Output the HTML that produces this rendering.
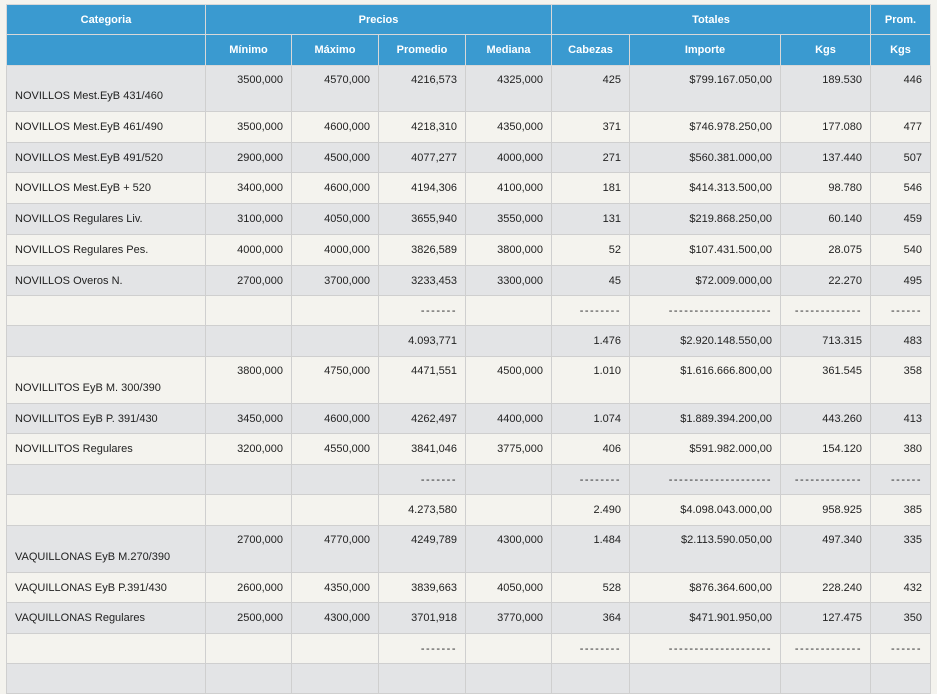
<!DOCTYPE html>
<html><head><meta charset="utf-8"><style>
body{margin:0;background:#f4f3ee;width:937px;height:669px;overflow:hidden;font-family:"Liberation Sans",sans-serif;}
table{position:absolute;left:6px;top:4px;border-collapse:collapse;table-layout:fixed;font-size:11px;color:#222;}
td,th{border:1px solid #cfcfcf;padding:0 8px;text-align:right;white-space:nowrap;overflow:hidden;}
th{background:#3a9ad0;color:#fff;font-weight:bold;text-align:center;border-color:#d8d8d8;}
tr.g td{background:#e3e4e6}
tr.l td{background:#f4f3ee}
td.c{text-align:left}
tr.t td{vertical-align:top;padding-top:8px}
tr.t td.c{vertical-align:bottom;padding-bottom:9px}
tr.d td{letter-spacing:1.5px}
</style></head><body>
<table>
<colgroup><col style="width:199px"><col style="width:86px"><col style="width:87px"><col style="width:87px"><col style="width:86px"><col style="width:78px"><col style="width:151px"><col style="width:90px"><col style="width:60px"></colgroup>
<tr style="height:30px"><th>Categoria</th><th colspan="4">Precios</th><th colspan="3">Totales</th><th>Prom.</th></tr>
<tr style="height:31px"><th></th><th>Mínimo</th><th>Máximo</th><th>Promedio</th><th>Mediana</th><th>Cabezas</th><th>Importe</th><th>Kgs</th><th>Kgs</th></tr>
<tr class="g t" style="height:46px"><td class="c">NOVILLOS Mest.EyB 431/460</td><td>3500,000</td><td>4570,000</td><td>4216,573</td><td>4325,000</td><td>425</td><td>$799.167.050,00</td><td>189.530</td><td>446</td></tr>
<tr class="l" style="height:31px"><td class="c">NOVILLOS Mest.EyB 461/490</td><td>3500,000</td><td>4600,000</td><td>4218,310</td><td>4350,000</td><td>371</td><td>$746.978.250,00</td><td>177.080</td><td>477</td></tr>
<tr class="g" style="height:30px"><td class="c">NOVILLOS Mest.EyB 491/520</td><td>2900,000</td><td>4500,000</td><td>4077,277</td><td>4000,000</td><td>271</td><td>$560.381.000,00</td><td>137.440</td><td>507</td></tr>
<tr class="l" style="height:31px"><td class="c">NOVILLOS Mest.EyB + 520</td><td>3400,000</td><td>4600,000</td><td>4194,306</td><td>4100,000</td><td>181</td><td>$414.313.500,00</td><td>98.780</td><td>546</td></tr>
<tr class="g" style="height:31px"><td class="c">NOVILLOS Regulares Liv.</td><td>3100,000</td><td>4050,000</td><td>3655,940</td><td>3550,000</td><td>131</td><td>$219.868.250,00</td><td>60.140</td><td>459</td></tr>
<tr class="l" style="height:31px"><td class="c">NOVILLOS Regulares Pes.</td><td>4000,000</td><td>4000,000</td><td>3826,589</td><td>3800,000</td><td>52</td><td>$107.431.500,00</td><td>28.075</td><td>540</td></tr>
<tr class="g" style="height:30px"><td class="c">NOVILLOS Overos N.</td><td>2700,000</td><td>3700,000</td><td>3233,453</td><td>3300,000</td><td>45</td><td>$72.009.000,00</td><td>22.270</td><td>495</td></tr>
<tr class="l d" style="height:30px"><td></td><td></td><td></td><td>-------</td><td></td><td>--------</td><td>--------------------</td><td>-------------</td><td>------</td></tr>
<tr class="g" style="height:31px"><td></td><td></td><td></td><td>4.093,771</td><td></td><td>1.476</td><td>$2.920.148.550,00</td><td>713.315</td><td>483</td></tr>
<tr class="l t" style="height:47px"><td class="c">NOVILLITOS EyB M. 300/390</td><td>3800,000</td><td>4750,000</td><td>4471,551</td><td>4500,000</td><td>1.010</td><td>$1.616.666.800,00</td><td>361.545</td><td>358</td></tr>
<tr class="g" style="height:30px"><td class="c">NOVILLITOS EyB P. 391/430</td><td>3450,000</td><td>4600,000</td><td>4262,497</td><td>4400,000</td><td>1.074</td><td>$1.889.394.200,00</td><td>443.260</td><td>413</td></tr>
<tr class="l" style="height:31px"><td class="c">NOVILLITOS Regulares</td><td>3200,000</td><td>4550,000</td><td>3841,046</td><td>3775,000</td><td>406</td><td>$591.982.000,00</td><td>154.120</td><td>380</td></tr>
<tr class="g d" style="height:30px"><td></td><td></td><td></td><td>-------</td><td></td><td>--------</td><td>--------------------</td><td>-------------</td><td>------</td></tr>
<tr class="l" style="height:31px"><td></td><td></td><td></td><td>4.273,580</td><td></td><td>2.490</td><td>$4.098.043.000,00</td><td>958.925</td><td>385</td></tr>
<tr class="g t" style="height:47px"><td class="c">VAQUILLONAS EyB M.270/390</td><td>2700,000</td><td>4770,000</td><td>4249,789</td><td>4300,000</td><td>1.484</td><td>$2.113.590.050,00</td><td>497.340</td><td>335</td></tr>
<tr class="l" style="height:30px"><td class="c">VAQUILLONAS EyB P.391/430</td><td>2600,000</td><td>4350,000</td><td>3839,663</td><td>4050,000</td><td>528</td><td>$876.364.600,00</td><td>228.240</td><td>432</td></tr>
<tr class="g" style="height:31px"><td class="c">VAQUILLONAS Regulares</td><td>2500,000</td><td>4300,000</td><td>3701,918</td><td>3770,000</td><td>364</td><td>$471.901.950,00</td><td>127.475</td><td>350</td></tr>
<tr class="l d" style="height:30px"><td></td><td></td><td></td><td>-------</td><td></td><td>--------</td><td>--------------------</td><td>-------------</td><td>------</td></tr>
<tr class="g" style="height:30px"><td></td><td></td><td></td><td></td><td></td><td></td><td></td><td></td><td></td></tr>
</table>
</body></html>
